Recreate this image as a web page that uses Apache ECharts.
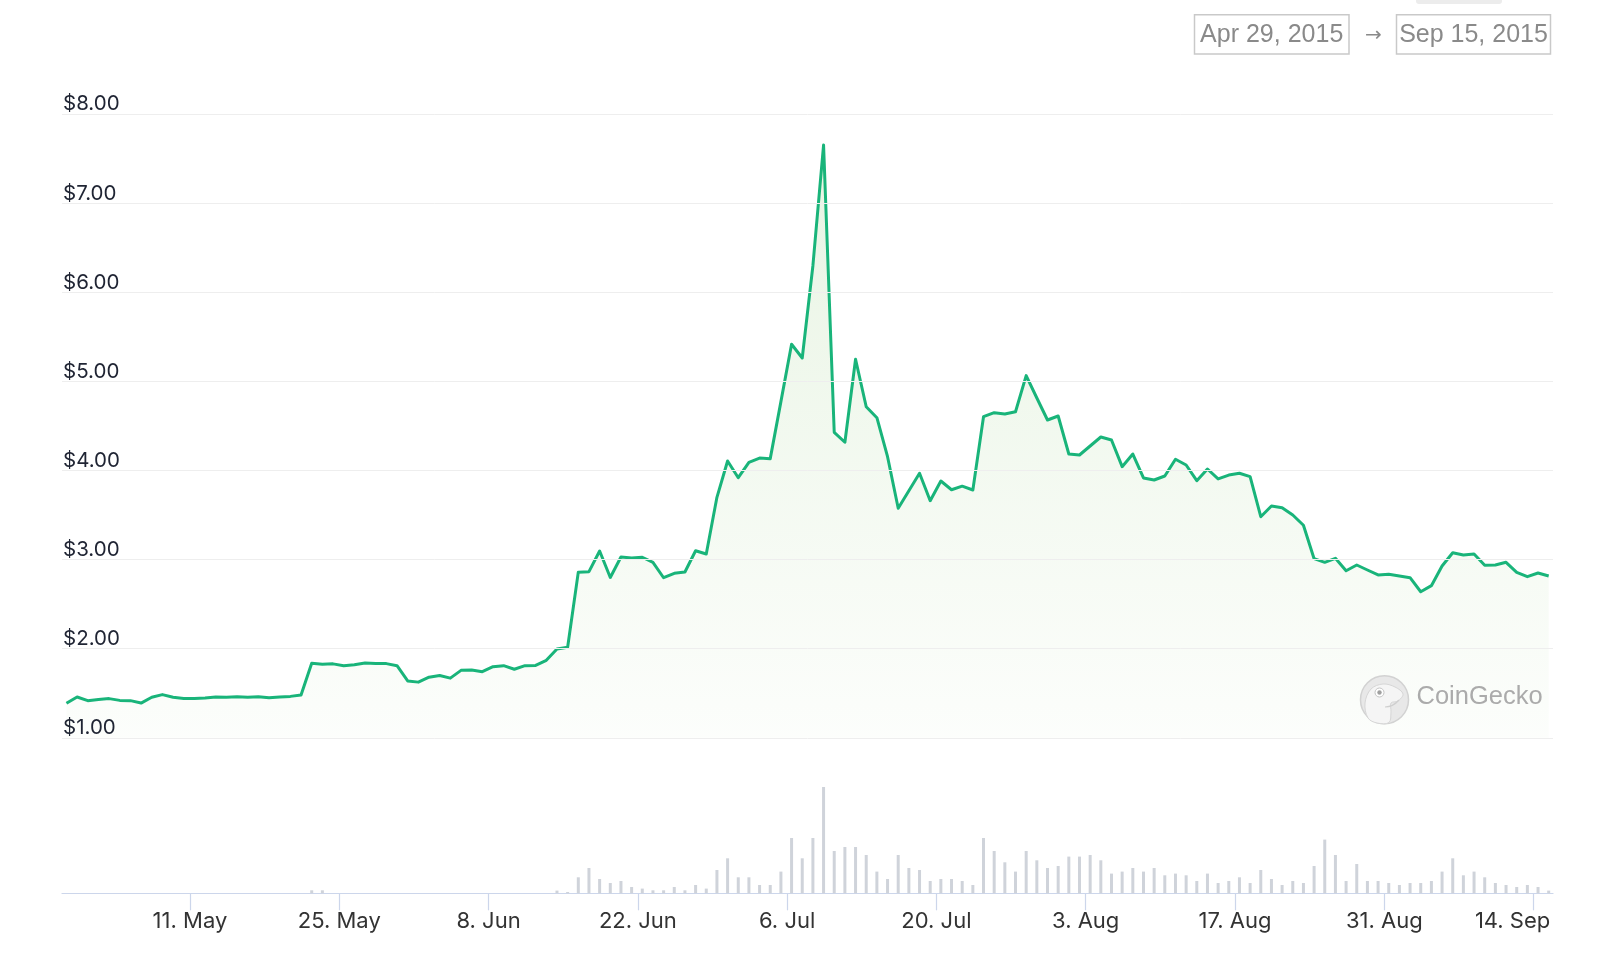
<!DOCTYPE html>
<html>
<head>
<meta charset="utf-8">
<script src="https://cdn.jsdelivr.net/npm/echarts@6/dist/echarts.min.js"></script>
<style>html,body{margin:0;padding:0;background:#fff}#c{width:1600px;height:960px}</style>
</head>
<body>
<div id="c"></div>
<script>
// ---- data ----
const startDate = '2015-04-29';
const prices = [
  1.387, 1.458, 1.417, 1.430, 1.440, 1.420, 1.417, 1.390, 1.455, 1.485,
  1.455, 1.440, 1.440, 1.447, 1.458, 1.455, 1.462, 1.455, 1.462, 1.450,
  1.458, 1.465, 1.480, 1.836, 1.825, 1.830, 1.810, 1.820, 1.840, 1.833,
  1.833, 1.810, 1.638, 1.625, 1.680, 1.700, 1.670, 1.757, 1.760, 1.742,
  1.798, 1.810, 1.770, 1.810, 1.813, 1.870, 1.997, 2.016, 2.860, 2.865,
  3.097, 2.800, 3.030, 3.018, 3.027, 2.970, 2.797, 2.847, 2.861, 3.100,
  3.063, 3.700, 4.108, 3.920, 4.093, 4.140, 4.134, 4.774, 5.418, 5.264,
  6.300, 7.655, 4.430, 4.318, 5.250, 4.717, 4.594, 4.156, 3.577, 3.774,
  3.970, 3.662, 3.883, 3.785, 3.825, 3.782, 4.605, 4.650, 4.635, 4.661,
  5.066, 4.815, 4.568, 4.613, 4.186, 4.175, 4.276, 4.377, 4.343, 4.044,
  4.186, 3.917, 3.894, 3.939, 4.127, 4.063, 3.887, 4.018, 3.906, 3.950,
  3.970, 3.932, 3.482, 3.602, 3.583, 3.501, 3.386, 3.011, 2.970, 3.015,
  2.876, 2.940, 2.884, 2.828, 2.836, 2.817, 2.798, 2.640, 2.708, 2.929,
  3.078, 3.052, 3.064, 2.937, 2.940, 2.970, 2.858, 2.809, 2.850, 2.817
];
const volumes = [
  0, 0, 0, 0, 0, 0, 0, 0, 0, 0,
  0, 0, 0, 0, 0, 0, 0, 0, 0, 0,
  0, 0, 0, 30, 30, 0, 0, 0, 0, 0,
  0, 0, 0, 0, 0, 0, 0, 0, 0, 0,
  0, 0, 0, 0, 0, 0, 27, 13, 160, 253,
  143, 103, 123, 63, 47, 30, 30, 63, 30, 83,
  47, 233, 350, 160, 160, 83, 83, 217, 553, 350,
  553, 1063, 423, 463, 463, 383, 217, 143, 383, 253,
  233, 123, 143, 143, 123, 83, 553, 423, 310, 217,
  423, 330, 253, 273, 367, 367, 383, 330, 197, 217,
  253, 217, 253, 180, 197, 180, 123, 197, 103, 123,
  160, 103, 233, 143, 83, 123, 103, 273, 537, 383,
  123, 293, 123, 123, 103, 83, 103, 103, 123, 217,
  350, 180, 217, 160, 103, 83, 63, 83, 63, 27
];
const tickDates = ['2015-05-11','2015-05-25','2015-06-08','2015-06-22','2015-07-06',
                   '2015-07-20','2015-08-03','2015-08-17','2015-08-31','2015-09-14'];
const tickLabels = ['11. May','25. May','8. Jun','22. Jun','6. Jul',
                    '20. Jul','3. Aug','17. Aug','31. Aug','14. Sep'];
const rangeLabels = ['Apr 29, 2015', 'Sep 15, 2015'];
const brandName = 'CoinGecko';

// ---- build ----
const DAY = 86400000;
const t0 = Date.parse(startDate + 'T00:00:00Z');
const pointTimes = prices.map((_, i) => t0 + i * DAY + 10 * 3600000);
const tickTimes = tickDates.map(d => Date.parse(d + 'T00:00:00Z'));
const xMin = t0;
const xMax = t0 + 139.82 * DAY;
const labelFor = v => {
  const i = tickTimes.findIndex(t => Math.abs(t - v) < 3600000);
  if (i < 0) return '';
  return i === tickTimes.length - 1 ? '{last|' + tickLabels[i] + '}' : tickLabels[i];
};

const chart = echarts.init(document.getElementById('c'), null, {renderer: 'canvas'});
const font = '"Liberation Sans", Arial, sans-serif';
const uiFont = 'Inter, "Noto Sans", sans-serif';
const green = '#19b47a';

chart.setOption({
  animation: false,
  backgroundColor: '#ffffff',
  grid: [
    {left: 62, right: 47, top: 114.3, height: 623.5},
    {left: 62, right: 47, top: 743.3, height: 150}
  ],
  xAxis: [
    {type: 'value', gridIndex: 0, min: xMin, max: xMax, show: false},
    {
      type: 'value', gridIndex: 1, min: xMin, max: xMax,
      axisLine: {show: true, onZero: false, lineStyle: {color: '#ccd6eb', width: 1.2}},
      axisTick: {show: true, customValues: tickTimes, length: 17, lineStyle: {color: '#ccd6eb', width: 1.2}},
      axisLabel: {customValues: tickTimes, formatter: labelFor, fontSize: 22, color: '#333333',
                  fontFamily: uiFont, margin: 17,
                  rich: {last: {fontSize: 22, color: '#333333', fontFamily: uiFont, padding: [0, 42, 0, 0]}}},
      splitLine: {show: false}
    }
  ],
  yAxis: [
    {
      type: 'value', gridIndex: 0, min: 1, max: 8, interval: 1, z: 10,
      axisLine: {show: false}, axisTick: {show: false},
      axisLabel: {inside: true, margin: 1, verticalAlign: 'bottom', fontSize: 20.5, lineHeight: 20,
                  color: '#1f2433', fontFamily: uiFont,
                  formatter: v => '$' + v.toFixed(2)},
      splitLine: {lineStyle: {color: '#eeeeee', width: 1}}
    },
    {type: 'value', gridIndex: 1, min: 0, max: 1500, show: false, splitLine: {show: false}}
  ],
  series: [
    {
      type: 'line', xAxisIndex: 0, yAxisIndex: 0,
      data: pointTimes.map((t, i) => [t, prices[i]]),
      showSymbol: false, symbol: 'none', z: 3,
      lineStyle: {color: green, width: 3, join: 'round'},
      areaStyle: {
        origin: 'start',
        color: new echarts.graphic.LinearGradient(0, 0, 0, 1, [
          {offset: 0, color: 'rgba(120,190,90,0.24)'},
          {offset: 1, color: 'rgba(120,190,90,0.03)'}
        ])
      }
    },
    {
      type: 'bar', xAxisIndex: 1, yAxisIndex: 1,
      data: pointTimes.map((t, i) => [t, volumes[i]]),
      barWidth: 3,
      itemStyle: {color: '#cfd3da'}
    }
  ],
  graphic: [
    {type: 'rect', shape: {x: 1416, y: -4, width: 86, height: 8, r: 3}, style: {fill: '#ececec'}},
    {type: 'rect', shape: {x: 1194.5, y: 14.7, width: 154.5, height: 39.3},
     style: {fill: '#fff', stroke: '#c9c9c9', lineWidth: 1.5}},
    {type: 'text', x: 1271.7, y: 35, style: {text: rangeLabels[0], fill: '#8a8a8a', font: '25px ' + font,
     align: 'center', verticalAlign: 'middle'}},
    {type: 'text', x: 1373.5, y: 35.5, style: {text: '\u2192', fill: '#8a8a8a', font: '20px "DejaVu Sans", sans-serif',
     align: 'center', verticalAlign: 'middle'}},
    {type: 'rect', shape: {x: 1396.5, y: 14.7, width: 154, height: 39.3},
     style: {fill: '#fff', stroke: '#c9c9c9', lineWidth: 1.5}},
    {type: 'text', x: 1473.5, y: 35, style: {text: rangeLabels[1], fill: '#8a8a8a', font: '25px ' + font,
     align: 'center', verticalAlign: 'middle'}},
    // watermark logo
    {type: 'circle', shape: {cx: 1384.5, cy: 699.7, r: 24}, style: {fill: '#e8e8e8', stroke: '#d2d2d2', lineWidth: 1.5}, z: 20},
    {type: 'polygon', shape: {smooth: 0.35, points: [
      [1368, 718], [1365, 703], [1371, 689], [1383, 684], [1395, 687], [1403, 694],
      [1398, 701], [1391, 703], [1391, 712], [1389, 722.5], [1377, 723]]},
     style: {fill: '#f5f5f5', stroke: '#d6d6d6', lineWidth: 1}, z: 21},
    {type: 'circle', shape: {cx: 1379.5, cy: 692.5, r: 4.5}, style: {fill: '#ffffff', stroke: '#c4c4c4', lineWidth: 1}, z: 22},
    {type: 'circle', shape: {cx: 1379.5, cy: 692.5, r: 2.2}, style: {fill: '#a0a0a0'}, z: 23},
    {type: 'bezierCurve', shape: {x1: 1385, y1: 707, x2: 1399, y2: 700, cpx1: 1393, cpy1: 707},
     style: {fill: null, stroke: '#cfcfcf', lineWidth: 1.2}, z: 22},
    {type: 'text', x: 1416.5, y: 697, z: 20, style: {text: brandName, fill: '#ababab', font: '25.5px ' + font,
     align: 'left', verticalAlign: 'middle'}}
  ]
});
</script>
</body>
</html>
